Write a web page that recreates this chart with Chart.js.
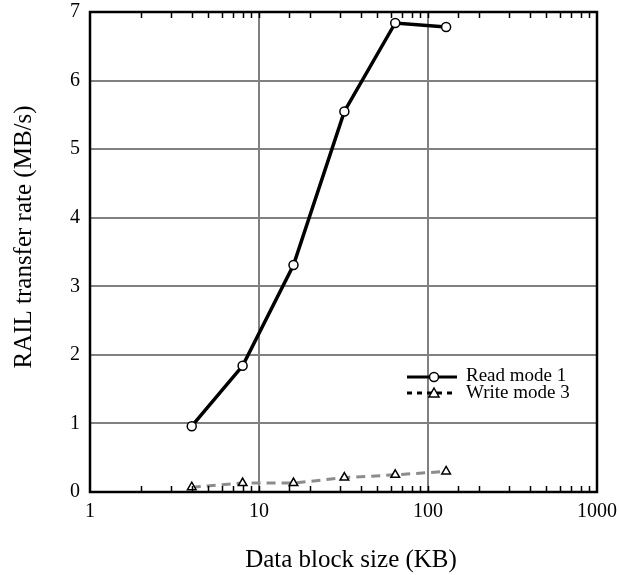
<!DOCTYPE html>
<html lang="en">
<head>
  <meta charset="UTF-8">
  <title>RAIL transfer rate</title>
  <script src="https://cdn.jsdelivr.net/npm/chart.js"></script>
  <style>
    html, body {
      margin: 0;
      padding: 0;
      background: #fff;
    }
    canvas {
      display: block;
    }
  </style>
</head>
<body>
  <canvas id="railChart" width="619" height="575"></canvas>

  <script>
    // data
    const blockSizes = [4, 8, 16, 32, 64, 128];
    const readMode1 = [0.96, 1.84, 3.31, 5.55, 6.84, 6.78];
    const writeMode3 = [0.07, 0.13, 0.13, 0.21, 0.25, 0.3];
    const xTickLabels = [1, 10, 100, 1000];

    const serif = '"Liberation Serif", "DejaVu Serif", serif';

    // box, inward ticks on top/bottom, axis titles and the legend
    const framePlugin = {
      id: 'frame',
      afterDraw(chart) {
        const { ctx, chartArea: a } = chart;
        const xs = chart.scales.x;
        ctx.save();

        ctx.strokeStyle = '#000';
        ctx.lineWidth = 1.5;
        xs.ticks.forEach(t => {
          const px = Math.round(xs.getPixelForValue(t.value)) + 0.5;
          if (px <= a.left + 1 || px >= a.right - 1) return;
          ctx.beginPath();
          ctx.moveTo(px, a.bottom);
          ctx.lineTo(px, a.bottom - 6);
          ctx.moveTo(px, a.top);
          ctx.lineTo(px, a.top + 6);
          ctx.stroke();
        });

        ctx.lineWidth = 2.5;
        ctx.strokeRect(a.left, a.top, a.right - a.left, a.bottom - a.top);

        // axis titles
        ctx.fillStyle = '#000';
        ctx.font = '25px ' + serif;
        ctx.textAlign = 'center';
        ctx.textBaseline = 'alphabetic';
        ctx.fillText('Data block size (KB)', 351, 567);
        ctx.save();
        ctx.translate(31, 237);
        ctx.rotate(-Math.PI / 2);
        ctx.fillText('RAIL transfer rate (MB/s)', 0, 0);
        ctx.restore();

        // legend
        const lx0 = 407, lx1 = 457, mx = 434;
        ctx.font = '19px ' + serif;
        ctx.textAlign = 'left';
        ctx.textBaseline = 'middle';

        ctx.lineWidth = 3;
        ctx.setLineDash([]);
        ctx.beginPath();
        ctx.moveTo(lx0, 377);
        ctx.lineTo(lx1, 377);
        ctx.stroke();
        ctx.lineWidth = 1.5;
        ctx.beginPath();
        ctx.arc(mx, 377, 4.5, 0, Math.PI * 2);
        ctx.fillStyle = '#fff';
        ctx.fill();
        ctx.stroke();
        ctx.fillStyle = '#000';
        ctx.fillText('Read mode 1', 466, 376);

        ctx.lineWidth = 3;
        ctx.setLineDash([5, 5]);
        ctx.beginPath();
        ctx.moveTo(lx0, 393);
        ctx.lineTo(lx1, 393);
        ctx.stroke();
        ctx.setLineDash([]);
        ctx.lineWidth = 1.5;
        ctx.beginPath();
        ctx.moveTo(mx, 388);
        ctx.lineTo(mx + 5, 397);
        ctx.lineTo(mx - 5, 397);
        ctx.closePath();
        ctx.fillStyle = '#fff';
        ctx.fill();
        ctx.stroke();
        ctx.fillStyle = '#000';
        ctx.fillText('Write mode 3', 466, 393);

        ctx.restore();
      }
    };

    new Chart(document.getElementById('railChart'), {
      type: 'line',
      data: {
        datasets: [
          {
            label: 'Read mode 1',
            data: blockSizes.map((x, i) => ({ x, y: readMode1[i] })),
            borderColor: '#000',
            borderWidth: 3.5,
            pointStyle: 'circle',
            pointRadius: 4.5,
            pointBorderWidth: 1.5,
            pointBorderColor: '#000',
            pointBackgroundColor: '#fff',
            tension: 0,
            clip: false
          },
          {
            label: 'Write mode 3',
            data: blockSizes.map((x, i) => ({ x, y: writeMode3[i] })),
            borderColor: '#8c8c8c',
            borderWidth: 3,
            borderDash: [9, 6],
            pointStyle: 'triangle',
            pointRadius: 5,
            pointBorderWidth: 1.5,
            pointBorderColor: '#000',
            pointBackgroundColor: '#fff',
            tension: 0,
            clip: false
          }
        ]
      },
      options: {
        responsive: false,
        animation: false,
        layout: { padding: { top: 12, right: 22, left: 0, bottom: 0 } },
        plugins: {
          legend: { display: false },
          tooltip: { enabled: false }
        },
        scales: {
          x: {
            type: 'logarithmic',
            min: 1,
            max: 1000,
            border: { display: false },
            grid: {
              drawTicks: false,
              lineWidth: 2,
              color: c => (c.tick && xTickLabels.includes(c.tick.value)) ? '#808080' : 'rgba(0,0,0,0)'
            },
            ticks: {
              autoSkip: false,
              maxRotation: 0,
              padding: 8,
              color: '#000',
              font: { family: serif, size: 20 },
              callback: v => xTickLabels.includes(v) ? String(v) : ''
            },
            afterFit: s => {
              s.height = 83;
              s.paddingLeft = 0;
              s.paddingRight = 0;
            }
          },
          y: {
            min: 0,
            max: 7,
            border: { display: false },
            grid: {
              drawTicks: false,
              lineWidth: 2,
              color: '#808080'
            },
            ticks: {
              stepSize: 1,
              padding: 10,
              color: '#000',
              font: { family: serif, size: 20 }
            },
            afterFit: s => {
              s.width = 90;
              s.paddingTop = 0;
              s.paddingBottom = 0;
            }
          }
        }
      },
      plugins: [framePlugin]
    });
  </script>
</body>
</html>
